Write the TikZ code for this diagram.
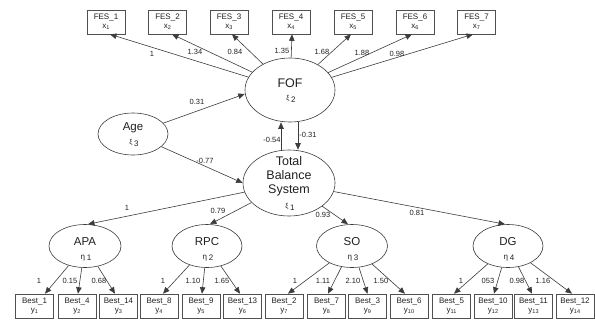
\documentclass[tikz,border=0pt]{standalone}
\usepackage{fontspec}
\setmainfont{Liberation Sans}
\usetikzlibrary{arrows.meta,shapes.geometric,calc}
\definecolor{linec}{HTML}{3C3C3C}
\definecolor{boxc}{HTML}{505050}
\definecolor{txt}{HTML}{202020}
\newcommand{\lsub}[1]{\raisebox{-1.2pt}{\fontsize{5.5}{5.5}\selectfont #1}}
\newcommand{\myxi}[1]{{\fontsize{7}{7}\selectfont ξ}\,\raisebox{-1.5pt}{\fontsize{8}{8}\selectfont #1}}
\newcommand{\myeta}[1]{{\fontsize{8}{8}\selectfont η}\,\raisebox{-1.5pt}{\fontsize{8}{8}\selectfont #1}}
\begin{document}
\begin{tikzpicture}[x=1pt,y=-1pt,
  obs/.style={draw=boxc, line width=0.6pt, minimum width=38pt, minimum height=24pt, inner sep=0pt, align=center, font=\fontsize{8}{9.5}\selectfont, text=txt},
  lat/.style={ellipse, draw=linec, line width=0.6pt, inner sep=0pt},
  arr/.style={draw=linec, line width=0.6pt, -{Triangle[length=6.5pt,width=5.5pt]}},
  lab/.style={font=\fontsize{7.5}{8}\selectfont, text=txt, inner sep=0pt},
  bigt/.style={font=\fontsize{12.5}{14}\selectfont, text=txt, inner sep=0pt, align=center},
  gk/.style={text=txt, inner sep=0pt}]
\useasboundingbox (0,0) rectangle (595,322);
% FES boxes
\foreach \i/\xx in {1/106,2/167.5,3/229,4/291,5/353,6/415,7/476.5}
  \node[obs] (F\i) at (\xx,22) {FES\_\i\\[-1pt]x\lsub{\i}};
% Best boxes
\foreach \n/\b/\s/\xx in {1/1/1/34.5,2/4/2/77,3/14/3/118.5,4/8/4/159,5/9/5/201,6/13/6/242.5,7/2/7/284,8/7/8/326.5,9/3/9/367.5,10/6/10/409,11/5/11/451.5,12/10/12/493,13/11/13/533.5,14/12/14/575}
  \node[obs] (B\n) at (\xx,306) {Best\_\b\\[-1pt]y\lsub{\s}};
% latent variables
\node[lat, minimum width=90pt, minimum height=64pt] (FOF) at (290,90) {};
\node[bigt] at (290,83) {FOF};
\node[gk] at (291,99) {\myxi{2}};
\node[lat, minimum width=70pt, minimum height=42pt] (Age) at (133,134) {};
\node[bigt, font=\fontsize{11.5}{13}\selectfont] at (133,128) {Age};
\node[gk] at (134,143) {\myxi{3}};
\node[lat, minimum width=92pt, minimum height=66pt] (TBS) at (289,183) {};
\node[bigt] at (289,176) {Total\\Balance\\System};
\node[gk] at (290,207) {\myxi{1}};
\foreach \nm/\xx/\ww/\k in {APA/85/72/1,RPC/207/70/2,SO/352/71/3,DG/508/70/4}{
  \node[lat, minimum width=\ww pt, minimum height=43pt] (\nm) at (\xx,246) {};
  \node[bigt, font=\fontsize{11.5}{13}\selectfont] at (\xx,242) {\nm};
  \node[gk] at (\xx+1,258) {\myeta{\k}};
}
% FOF -> FES
\foreach \i/\sh in {1/4,2/4.5,3/3,4/1,5/-2,6/-3,7/-3.5}
  \draw[arr] (FOF) -- ([xshift=\sh pt]F\i.south);
\node[lab] at (152,54) {1};
\node[lab] at (195,52) {1.34};
\node[lab] at (235,52) {0.84};
\node[lab] at (282,51) {1.35};
\node[lab] at (322,52) {1.68};
\node[lab] at (362,53) {1.88};
\node[lab] at (397,54) {0.98};
% structural paths
\draw[arr] (Age) -- ([yshift=-4pt]FOF.west);
\node[lab] at (197,102) {0.31};
\draw[arr] (Age) -- (TBS.west);
\node[lab] at (205,161) {-0.77};
\draw[arr] ([xshift=-8pt]TBS.north) -- ([xshift=-9pt]FOF.south);
\node[lab] at (272,140) {-0.54};
\draw[arr] ([xshift=8pt]FOF.south) -- ([xshift=9pt]TBS.north);
\node[lab] at (308,135) {-0.31};
% TBS -> dimensions
\draw[arr] (TBS) -- ([xshift=3pt]APA.north);
\node[lab] at (127,208) {1};
\draw[arr] (TBS) -- ([xshift=3pt]RPC.north);
\node[lab] at (218,211) {0.79};
\draw[arr] (TBS) -- ([xshift=-4pt]SO.north);
\node[lab] at (323,215) {0.93};
\draw[arr] (TBS) -- ([xshift=-3pt]DG.north);
\node[lab] at (417,213) {0.81};
% dimensions -> items
\foreach \l/\n/\sh in {APA/1/10.5,APA/2/1,APA/3/-3.5,RPC/4/4,RPC/5/1,RPC/6/-2.5,SO/7/4,SO/8/1.5,SO/9/0,SO/10/-4,DG/11/2.5,DG/12/1,DG/13/-1.5,DG/14/-3}
  \draw[arr] (\l) -- ([xshift=\sh pt]B\n.north);
\foreach \xx/\t in {39/1,70/0.15,99/0.68,163/1,193/1.10,222/1.65,295/1,323/1.11,353/2.10,381/1.50,461/1,488/053,517/0.98,543/1.16}
  \node[lab] at (\xx,281) {\t};
\end{tikzpicture}
\end{document}
